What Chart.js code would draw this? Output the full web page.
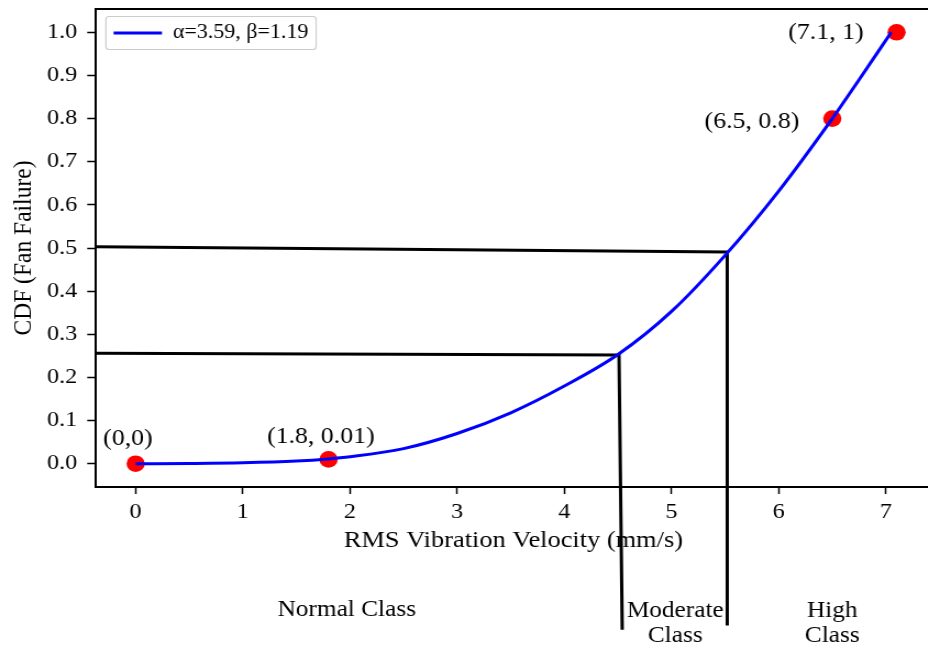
<!DOCTYPE html>
<html>
<head>
<meta charset="utf-8">
<title>CDF (Fan Failure)</title>
<script src="https://cdn.jsdelivr.net/npm/chart.js@4.4.1/dist/chart.umd.min.js"></script>
<style>
	html, body { margin: 0; padding: 0; background: #fff; overflow: hidden; }
	#frame { width: 928px; height: 648px; overflow: hidden; }
	#cdf_chart { display: block; }
</style>
</head>
<body>
<div id="frame">
<!-- drawn at 855px and widened ~1.1x on screen; the right edge of the plot runs past the frame -->
<canvas id="cdf_chart" width="855" height="648" style="width:940px;height:648px"></canvas>
</div>
<script>
// fitted curve, read along its length
var curveX = [0, 0.5, 1.0, 1.5, 1.8, 2.0, 2.5, 3.0, 3.5, 4.0, 4.5, 5.0, 5.5, 6.0, 6.5, 6.75, 7.05];
var curveY = [0, 0.0005, 0.002, 0.006, 0.011, 0.016, 0.035, 0.070, 0.118, 0.180, 0.253, 0.353, 0.483, 0.632, 0.800, 0.890, 1.0];

// marked points
var pointX = [0, 1.8, 6.5, 7.1];
var pointY = [0, 0.01, 0.8, 1];
var pointLabels = ['(0,0)', '(1.8, 0.01)', '(6.5, 0.8)', '(7.1, 1)'];

// axis limits and ticks
var xMin = -0.37, xMax = 7.42;
var yMin = -0.054, yMax = 1.054;
var xTicks = [0, 1, 2, 3, 4, 5, 6, 7];
var yTicks = [0, 0.1, 0.2, 0.3, 0.4, 0.5, 0.6, 0.7, 0.8, 0.9, 1.0];

// class boundaries: across from the y axis to the curve, then down under the axis
var lowGuideX = [xMin, 4.51, 4.54];
var lowGuideY = [0.256, 0.252, -0.385];
var highGuideX = [xMin, 5.52, 5.52];
var highGuideY = [0.503, 0.491, -0.375];

var classNames = [['Normal Class'], ['Moderate', 'Class'], ['High', 'Class']];
var classCenters = [1.97, 5.035, 6.5];

var serif = "'Liberation Serif', 'Times New Roman', serif";

function toPoints(xs, ys) {
	return xs.map(function(x, i) { return {x: x, y: ys[i]}; });
}

// where each point label sits relative to its dot
var labelPlace = [
	{align: 'center', dx: -7, dy: -25},
	{align: 'center', dx: -7, dy: -23},
	{align: 'right', dx: -30, dy: 3},
	{align: 'right', dx: -30, dy: 1}
];

var decorations = {
	id: 'decorations',
	afterLayout: function(chart) {
		// the chartArea legend is laid out from the canvas top; pull it down into the plot
		var legend = chart.legend;
		if (!legend) return;
		var dy = chart.chartArea.top - 2 - legend.top;
		legend.top += dy;
		legend.bottom += dy;
		legend.legendHitBoxes.forEach(function(hb) { hb.top += dy; });
	},
	beforeDraw: function(chart) {
		// legend frame
		var hb = chart.legend && chart.legend.legendHitBoxes[0];
		if (!hb) return;
		var ctx = chart.ctx;
		var cy = hb.top + hb.height / 2;
		ctx.save();
		ctx.beginPath();
		ctx.roundRect(hb.left - 7, cy - 16.5, hb.width + 14, 33, 3);
		ctx.fillStyle = 'rgba(255,255,255,0.8)';
		ctx.fill();
		ctx.strokeStyle = '#cccccc';
		ctx.lineWidth = 1.2;
		ctx.stroke();
		ctx.restore();
	},
	afterDatasetsDraw: function(chart) {
		var ctx = chart.ctx;
		var xs = chart.scales.x, ys = chart.scales.y;
		ctx.save();
		ctx.font = '23.5px ' + serif;
		ctx.fillStyle = '#000';
		ctx.textBaseline = 'middle';
		pointLabels.forEach(function(text, i) {
			var p = labelPlace[i];
			ctx.textAlign = p.align;
			ctx.fillText(text, xs.getPixelForValue(pointX[i]) + p.dx, ys.getPixelForValue(pointY[i]) + p.dy);
		});
		ctx.restore();
	},
	afterDraw: function(chart) {
		var ctx = chart.ctx;
		var area = chart.chartArea;
		ctx.save();
		// top spine
		ctx.strokeStyle = '#000';
		ctx.lineWidth = 2;
		ctx.beginPath();
		ctx.moveTo(area.left, area.top);
		ctx.lineTo(area.right, area.top);
		ctx.stroke();
		// class names under the axis title
		ctx.font = '23px ' + serif;
		ctx.fillStyle = '#000';
		ctx.textAlign = 'center';
		ctx.textBaseline = 'middle';
		classNames.forEach(function(lines, i) {
			var cx = chart.scales.x.getPixelForValue(classCenters[i]);
			var top = lines.length > 1 ? 611 : 610;
			lines.forEach(function(line, j) {
				ctx.fillText(line, cx, top + j * 25);
			});
		});
		ctx.restore();
	}
};

var guideStyle = {
	showLine: true,
	borderColor: '#000',
	borderWidth: 3,
	pointRadius: 0,
	clip: false
};

var canvas = document.getElementById('cdf_chart');
window.cdfChart = new Chart(canvas, {
	type: 'scatter',
	data: {
		datasets: [{
			label: 'α=3.59, β=1.19',
			data: toPoints(curveX, curveY),
			showLine: true,
			borderColor: '#0000ff',
			backgroundColor: '#0000ff',
			borderWidth: 3,
			pointRadius: 0,
			cubicInterpolationMode: 'monotone'
		}, {
			label: 'points',
			data: toPoints(pointX, pointY),
			backgroundColor: '#ff0000',
			borderWidth: 0,
			pointRadius: 8.3
		}, Object.assign({label: 'low', data: toPoints(lowGuideX, lowGuideY)}, guideStyle),
		   Object.assign({label: 'high', data: toPoints(highGuideX, highGuideY)}, guideStyle)]
	},
	options: {
		responsive: false,
		animation: false,
		devicePixelRatio: 1,
		layout: {padding: {top: 9, left: 0, right: 0, bottom: 0}},
		plugins: {
			tooltip: {enabled: false},
			legend: {
				position: 'chartArea',
				align: 'start',
				labels: {
					filter: function(item) { return item.datasetIndex === 0; },
					usePointStyle: true,
					pointStyle: 'line',
					pointStyleWidth: 44,
					padding: 16,
					color: '#000',
					font: {family: serif, size: 20}
				}
			}
		},
		scales: {
			x: {
				type: 'linear',
				min: xMin,
				max: xMax,
				afterBuildTicks: function(scale) {
					scale.ticks = xTicks.map(function(v) { return {value: v}; });
				},
				afterFit: function(scale) {
					scale.height = 161;
					scale.paddingLeft = 0;
					scale.paddingRight = 0;
				},
				border: {display: true, color: '#000', width: 2},
				grid: {drawOnChartArea: false, drawTicks: true, tickLength: 7, tickWidth: 1.5, tickColor: '#000'},
				ticks: {
					padding: 5.5,
					color: '#000',
					font: {family: serif, size: 22},
					maxRotation: 0,
					callback: function(v) { return String(v); }
				},
				title: {
					display: true,
					text: 'RMS Vibration Velocity (mm/s)',
					color: '#000',
					font: {family: serif, size: 24, lineHeight: 1.2},
					padding: {top: 4, bottom: 92.6}
				}
			},
			y: {
				type: 'linear',
				min: yMin,
				max: yMax,
				afterBuildTicks: function(scale) {
					scale.ticks = yTicks.map(function(v) { return {value: v}; });
				},
				afterFit: function(scale) {
					scale.width = 87.3;
					scale.paddingTop = 0;
					scale.paddingBottom = 0;
				},
				border: {display: true, color: '#000', width: 2},
				grid: {drawOnChartArea: false, drawTicks: true, tickLength: 8, tickWidth: 1.5, tickColor: '#000'},
				ticks: {
					padding: 9,
					color: '#000',
					font: {family: serif, size: 22},
					callback: function(v) { return v.toFixed(1); }
				},
				title: {
					display: true,
					text: 'CDF (Fan Failure)',
					color: '#000',
					font: {family: serif, size: 23.5, lineHeight: 1.2},
					padding: {top: 7.7, bottom: 4}
				}
			}
		}
	},
	plugins: [decorations]
});
</script>
</body>
</html>
